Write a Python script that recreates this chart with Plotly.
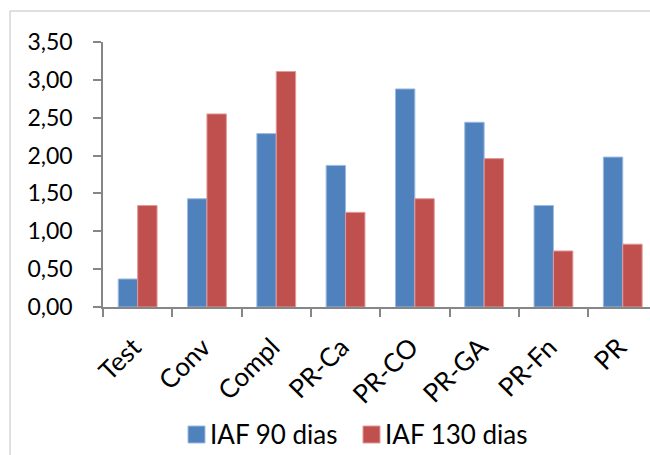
import plotly.graph_objects as go

categories = ["Test", "Conv", "Compl", "PR-Ca", "PR-CO", "PR-GA", "PR-Fn", "PR"]
series_names = ["IAF 90 dias", "IAF 130 dias"]
iaf_90 = [0.37, 1.43, 2.29, 1.87, 2.88, 2.44, 1.34, 1.98]
iaf_130 = [1.34, 2.55, 3.11, 1.25, 1.43, 1.96, 0.74, 0.83]
y_ticks = [0, 0.5, 1.0, 1.5, 2.0, 2.5, 3.0, 3.5]
y_tick_text = ["0,00", "0,50", "1,00", "1,50", "2,00", "2,50", "3,00", "3,50"]

FONT = "Lato"
BLUE = "#4F81BD"
RED = "#C0504D"
AXIS = "#868686"

W, H = 650, 455
ML, MR, MT, MB = 103, 0, 42, 148
PW = W - ML - MR
PH = H - MT - MB

fig = go.Figure()
fig.add_trace(go.Bar(name=series_names[0], x=categories, y=iaf_90, showlegend=False,
                     marker=dict(color=BLUE, line=dict(color="#9dbbe0", width=1))))
fig.add_trace(go.Bar(name=series_names[1], x=categories, y=iaf_130, showlegend=False,
                     marker=dict(color=RED, line=dict(color="#e09a98", width=1))))

def px_x(x):
    return (x - ML) / PW

def px_y(y):
    return (H - MB - y) / PH

frame = "#c0c0c0"
fig.add_shape(type="line", xref="paper", yref="paper",
              x0=px_x(10), x1=px_x(10), y0=px_y(460), y1=px_y(11),
              line=dict(color=frame, width=1))
fig.add_shape(type="line", xref="paper", yref="paper",
              x0=px_x(10), x1=px_x(660), y0=px_y(11), y1=px_y(11),
              line=dict(color=frame, width=1))

# manual legend (symbol + label)
legend_items = [(series_names[0], BLUE, "#9dbbe0", 188), (series_names[1], RED, "#e09a98", 363)]
for name, col, edge, lx in legend_items:
    fig.add_shape(type="rect", xref="paper", yref="paper",
                  x0=px_x(lx), x1=px_x(lx + 17), y0=px_y(443), y1=px_y(426),
                  fillcolor=col, line=dict(color=edge, width=1))
    fig.add_annotation(xref="paper", yref="paper", x=px_x(lx + 20), y=px_y(434),
                       xanchor="left", yanchor="middle", text=name, showarrow=False,
                       font=dict(family=FONT, size=26, color="#000000"))

fig.update_layout(
    width=W, height=H,
    margin=dict(l=ML, r=MR, t=MT, b=MB),
    paper_bgcolor="white", plot_bgcolor="white",
    barmode="group", bargap=0.44, bargroupgap=0,
    font=dict(family=FONT, color="#000000"),
    showlegend=False,
    xaxis=dict(range=[-0.5, -0.5 + PW / 69.3], showline=True, linecolor=AXIS,
               linewidth=1.5, ticks="outside", tickson="boundaries", ticklen=8,
               tickcolor=AXIS, tickwidth=1.5, tickangle=-45, showgrid=False,
               tickfont=dict(family=FONT, size=26, color="#000000"),
               ticklabelshift=-4, ticklabelstandoff=13, fixedrange=True),
    yaxis=dict(range=[0, 3.5], tickvals=y_ticks, ticktext=y_tick_text,
               showline=True, linecolor=AXIS, linewidth=1.5, ticks="outside",
               ticklen=8, tickcolor=AXIS, tickwidth=1.5, showgrid=False,
               zeroline=False, tickfont=dict(family=FONT, size=23, color="#000000"),
               ticklabelstandoff=16, fixedrange=True),
)

fig.write_html("out.html")
